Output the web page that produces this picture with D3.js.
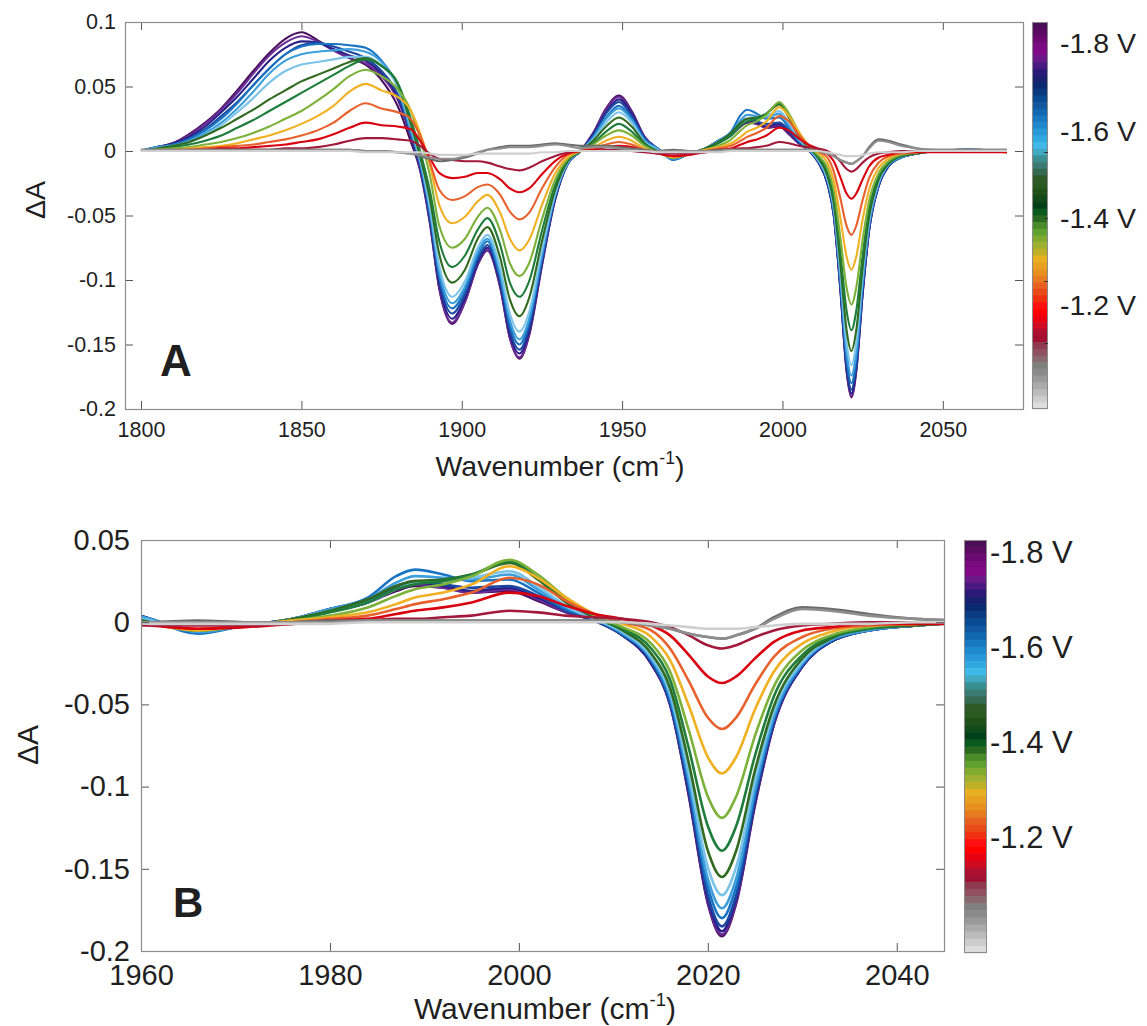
<!DOCTYPE html>
<html><head><meta charset="utf-8">
<script src="https://cdn.jsdelivr.net/npm/d3@7"></script>
<style>
body{margin:0;background:#fff}
svg{display:block}
text{font-family:"Liberation Sans",Arial,Helvetica,sans-serif;fill:#1f1f1f}
</style>
</head><body>
<svg id="c" width="1147" height="1026"></svg>
<script>
// ---------------- DATA ----------------
const wavenumber = [1800,1805,1810,1815,1820,1825,1830,1835,1840,1845,1850,1855,1860,1865,1870,1875,1880,1884,
  1887,1890,1893,1897,1901,1905,1908,1912,1915,1918,1921,1925,1929,1933,1937,
  1941,1945,1949,1953,1957,1961,1966,1971,
  1976,1980,1984,1987,1989,1992,1995,1999,2002,2005,2008,
  2011,2014,2016,2018,2020,2021.5,2023,2025,2027,2030,2033,2037,2042,
  2048,2058,2070];

const voltages = [-1.0,-1.05,-1.1,-1.15,-1.2,-1.25,-1.3,-1.35,-1.4,-1.45,-1.5,-1.55,-1.6,-1.65,-1.7,-1.75,-1.8];

const dA_180 = [0,.003,.006,.013,.022,.033,.047,.062,.076,.087,.092,.086,.078,.072,.067,.055,.035,.008,
  -.015,-.055,-.107,-.134,-.117,-.088,-.077,-.106,-.145,-.161,-.143,-.089,-.039,-.010,0,
  .014,.033,.043,.031,.011,.002,-.005,-.002,
  .002,.007,.012,.019,.022,.021,.018,.019,.013,.006,.001,
  -.008,-.025,-.050,-.106,-.171,-.191,-.171,-.111,-.062,-.027,-.012,-.005,-.002,
  0,.001,0];
const dA_175 = [0,.003,.006,.012,.021,.032,.045,.060,.074,.084,.089,.085,.078,.072,.068,.058,.040,.012,
  -.014,-.054,-.106,-.133,-.117,-.088,-.077,-.105,-.145,-.160,-.142,-.088,-.038,-.010,0,
  .014,.032,.042,.030,.011,.002,-.005,-.002,
  .002,.007,.012,.020,.023,.021,.018,.020,.014,.006,.001,
  -.008,-.025,-.050,-.105,-.170,-.190,-.170,-.110,-.062,-.027,-.012,-.005,-.002,
  0,.001,0];
const dA_170 = [0,.003,.006,.011,.019,.030,.042,.056,.070,.080,.085,.084,.079,.074,.070,.060,.042,.013,
  -.012,-.052,-.103,-.130,-.114,-.086,-.075,-.103,-.142,-.157,-.140,-.086,-.038,-.010,0,
  .013,.030,.040,.029,.010,.002,-.006,-.002,
  .002,.008,.013,.021,.024,.022,.019,.021,.015,.007,.001,
  -.008,-.025,-.049,-.104,-.168,-.188,-.168,-.109,-.061,-.027,-.012,-.005,-.002,
  0,.001,0];
const dA_165 = [0,.003,.005,.010,.017,.027,.038,.051,.064,.075,.082,.084,.081,.077,.072,.062,.044,.014,
  -.011,-.050,-.100,-.126,-.111,-.084,-.073,-.101,-.139,-.154,-.137,-.085,-.037,-.010,0,
  .012,.029,.038,.027,.010,.002,-.006,-.002,
  .002,.008,.013,.022,.025,.023,.021,.022,.016,.007,.001,
  -.008,-.024,-.049,-.102,-.166,-.185,-.166,-.107,-.060,-.026,-.012,-.005,-.002,
  0,.001,0];
const dA_160 = [0,.003,.005,.009,.016,.025,.037,.051,.064,.075,.081,.083,.083,.082,.080,.070,.050,.018,
  -.009,-.047,-.097,-.122,-.108,-.081,-.070,-.098,-.135,-.150,-.133,-.083,-.036,-.010,0,
  .011,.026,.035,.025,.009,.002,-.007,-.002,
  .002,.008,.015,.028,.032,.029,.025,.026,.018,.008,.002,
  -.007,-.023,-.047,-.099,-.161,-.180,-.161,-.104,-.059,-.026,-.011,-.005,-.002,
  0,.001,0];
const dA_155 = [0,.003,.004,.008,.014,.022,.033,.046,.060,.070,.075,.077,.078,.079,.077,.069,.050,.016,
  -.008,-.045,-.093,-.118,-.105,-.078,-.068,-.095,-.131,-.146,-.130,-.080,-.035,-.009,0,
  .010,.025,.033,.024,.008,.002,-.006,-.002,
  .002,.008,.014,.024,.028,.027,.026,.029,.020,.009,.002,
  -.007,-.022,-.045,-.096,-.156,-.174,-.156,-.101,-.057,-.025,-.011,-.005,-.002,
  0,.001,0];
const dA_150 = [0,.002,.004,.007,.012,.020,.030,.041,.053,.062,.067,.069,.071,.073,.073,.066,.050,.020,
  -.006,-.042,-.089,-.113,-.101,-.075,-.065,-.091,-.126,-.140,-.125,-.077,-.034,-.009,0,
  .009,.022,.030,.022,.007,.001,-.005,-.002,
  .002,.007,.012,.020,.024,.025,.027,.031,.022,.010,.002,
  -.006,-.021,-.043,-.092,-.149,-.166,-.149,-.096,-.054,-.024,-.010,-.004,-.002,
  0,.001,0];
const dA_145 = [0,.002,.004,.007,.012,.018,.025,.032,.040,.047,.054,.059,.064,.069,.072,.066,.052,.022,
  -.004,-.036,-.080,-.102,-.092,-.068,-.059,-.083,-.115,-.128,-.114,-.070,-.031,-.008,0,
  .008,.019,.026,.019,.006,.000,-.005,-.002,
  .002,.007,.014,.022,.025,.026,.029,.036,.026,.012,.003,
  -.005,-.019,-.040,-.086,-.139,-.155,-.139,-.090,-.051,-.022,-.010,-.004,-.002,
  0,.001,0];
const dA_140 = [0,.001,.003,.005,.008,.012,.018,.024,.031,.038,.045,.052,.059,.066,.071,.066,.053,.026,
  .000,-.030,-.070,-.090,-.081,-.061,-.052,-.073,-.102,-.113,-.101,-.062,-.027,-.007,0,
  .006,.015,.021,.015,.005,.000,-.005,-.002,
  .001,.006,.012,.020,.023,.025,.029,.037,.027,.013,.003,
  -.004,-.016,-.035,-.077,-.124,-.139,-.124,-.081,-.045,-.020,-.009,-.004,-.001,
  0,0,0];
const dA_135 = [0,.001,.002,.003,.005,.007,.010,.014,.019,.025,.031,.039,.048,.058,.063,.058,.048,.032,
  .010,-.018,-.058,-.075,-.068,-.051,-.044,-.062,-.087,-.097,-.087,-.053,-.023,-.006,0,
  .005,.012,.016,.012,.004,-.001,-.005,-.002,
  .001,.004,.009,.016,.020,.023,.028,.038,.029,.015,.004,
  -.003,-.013,-.030,-.066,-.106,-.119,-.106,-.069,-.039,-.017,-.008,-.003,-.001,
  0,0,-.001];
const dA_130 = [0,.001,.001,.002,.003,.004,.006,.009,.012,.016,.021,.027,.035,.046,.052,.047,.042,.032,
  .014,-.010,-.042,-.056,-.051,-.039,-.034,-.048,-.068,-.077,-.069,-.042,-.018,-.005,0,
  .003,.008,.011,.008,.002,-.001,-.005,-.002,
  .001,.003,.006,.011,.015,.018,.023,.034,.027,.015,.005,
  -.001,-.009,-.023,-.051,-.082,-.092,-.082,-.053,-.030,-.013,-.006,-.002,-.001,
  0,0,-.001];
const dA_125 = [0,0,.001,.001,.002,.003,.004,.005,.007,.009,.012,.016,.022,.031,.037,.033,.030,.025,
  .012,-.008,-.030,-.038,-.035,-.028,-.026,-.034,-.047,-.053,-.048,-.029,-.013,-.003,0,
  .002,.005,.007,.005,.001,-.001,-.004,-.002,
  .000,.002,.004,.008,.011,.014,.018,.027,.023,.013,.005,
  .000,-.005,-.016,-.036,-.058,-.065,-.058,-.038,-.021,-.009,-.004,-.002,-.001,
  0,0,-.001];
const dA_120 = [0,0,0,.001,.001,.002,.002,.003,.004,.005,.007,.009,.013,.018,.022,.020,.019,.017,
  .008,-.005,-.017,-.021,-.020,-.017,-.017,-.022,-.029,-.032,-.029,-.018,-.008,-.002,0,
  .001,.003,.004,.003,.000,-.002,-.004,-.003,
  -.001,.001,.002,.005,.007,.009,.012,.018,.016,.010,.005,
  .002,-.002,-.008,-.020,-.033,-.037,-.033,-.022,-.012,-.005,-.003,-.001,-.001,
  -.001,-.001,-.001];
const dA_115 = [0,0,0,0,0,.001,.001,.001,.001,.002,.002,.003,.005,.008,.010,.010,.009,.008,
  .004,-.002,-.006,-.007,-.008,-.008,-.009,-.012,-.014,-.015,-.013,-.008,-.004,-.001,0,
  .000,.001,.001,.000,-.001,-.002,-.002,-.002,
  -.001,.000,.001,.002,.002,.003,.004,.007,.006,.004,.003,
  .002,.000,-.003,-.008,-.014,-.016,-.014,-.009,-.005,-.002,-.001,0,0,
  0,0,0];
const dA_110 = [.001,.001,.001,.001,.001,.001,.001,.001,.001,.001,.001,.001,.001,.001,0,0,-.001,-.002,
  -.004,-.006,-.008,-.007,-.005,-.002,.001,.003,.004,.004,.004,.005,.006,.005,.004,
  .004,.004,.003,.002,.001,.000,.001,.000,
  .000,.001,.001,.001,.001,.001,.001,.001,.001,.001,.001,
  .000,-.002,-.004,-.007,-.009,-.010,-.008,-.004,.003,.009,.008,.005,.002,
  .001,.001,.001];
const dA_105 = [.001,.001,.001,.001,.001,.001,.001,.001,.001,.001,.001,.001,.001,.001,0,0,-.001,-.002,
  -.003,-.005,-.006,-.006,-.004,-.001,.001,.002,.003,.003,.003,.004,.005,.004,.002,
  .003,.003,.002,.001,.000,.000,.000,.000,
  .000,.000,.001,.001,.001,.001,.001,.001,.001,.001,.001,
  .000,-.002,-.004,-.007,-.009,-.010,-.008,-.004,.002,.008,.007,.004,.002,
  .001,.001,.001];
const dA_100 = [0,0,0,0,0,0,0,0,0,0,0,0,0,0,-.001,-.001,-.001,-.001,
  -.001,-.002,-.003,-.003,-.003,-.002,-.002,-.002,-.002,-.002,-.002,-.001,-.001,0,0,
  0,0,0,0,0,-.001,-.001,-.001,
  -.001,-.001,0,0,0,0,0,0,0,0,0,
  0,-.001,-.002,-.003,-.004,-.004,-.004,-.003,-.002,-.001,-.001,-.001,0,
  0,0,0];

const seriesValues = [dA_100,dA_105,dA_110,dA_115,dA_120,dA_125,dA_130,dA_135,dA_140,dA_145,dA_150,dA_155,dA_160,dA_165,dA_170,dA_175,dA_180];
const seriesColors = ['#cfcfcf','#8e8e8e','#6b6b6b','#a3193b','#d9000f','#e8602b','#f0b022','#7cb13a','#1e7d3a','#2f6a1f','#7cc3ea','#3c9fdc','#1a74c4','#1a48a0','#2b2088','#6c2c98','#4a0f5c'];

// colorbar colormap, top (most negative) to bottom
const colormap = ['#4b0f55','#5a0a60','#6a0a70','#7a0a80','#800a85','#6a1a88','#4a1a80','#2a1a78','#1a2070','#0a2a70',
  '#0a3a80','#0a4a90','#1058a0','#1068b0','#1878c0','#2088cc','#2898d8','#30a8e0','#40b8e8','#40a8c0',
  '#3a9090','#3a7a70','#356a50','#2e5a28','#2a5a20','#1e5018','#104a18','#004018','#0a5a20','#2a6a20',
  '#4a8a28','#60a030','#80aa30','#a0b030','#c0b028','#e8b020','#e8a020','#e89020','#e87a20','#e86020',
  '#e84a18','#f03010','#ff1010','#ff0000','#e80010','#d00a20','#b01030','#a01030','#903a50','#905060',
  '#8a6870','#808080','#8a8a8a','#999999','#aaaaaa','#bbbbbb','#cccccc','#dddddd'];
const cbLabels = [-1.8,-1.6,-1.4,-1.2];
const cbTicksA = [-1.55,-1.40,-1.255,-1.113];

const xTicksA = [1800,1850,1900,1950,2000,2050];
const yTicksA = [0.1,0.05,0,-0.05,-0.1,-0.15,-0.2];
const xTicksB = [1960,1980,2000,2020,2040];
const yTicksB = [0.05,0,-0.05,-0.1,-0.15,-0.2];

// ---------------- DRAW ----------------
const svg = d3.select('#c');
const series = voltages.map((v,i)=>({v, values: seriesValues[i], color: seriesColors[i]}));

function panel(cfg){
  const x = d3.scaleLinear().domain(cfg.xDomain).range([cfg.left, cfg.right]);
  const y = d3.scaleLinear().domain(cfg.yDomain).range([cfg.bottom, cfg.top]);
  const g = svg.append('g');
  const clipId = 'clip' + cfg.id;
  svg.append('clipPath').attr('id', clipId).append('rect')
    .attr('x', cfg.left).attr('y', cfg.top).attr('width', cfg.right-cfg.left).attr('height', cfg.bottom-cfg.top);

  const line = d3.line().x((d,i)=>x(wavenumber[i])).y(d=>y(d)).curve(d3.curveMonotoneX);
  const gl = g.append('g').attr('clip-path', `url(#${clipId})`);
  series.slice().reverse().forEach(s=>{
    gl.append('path').attr('d', line(s.values)).attr('fill','none')
      .attr('stroke', s.color).attr('stroke-width', cfg.lw).attr('stroke-linejoin','round');
  });

  const fmt = d=>String(d);
  const styleAxis = (sel, fs)=>{
    sel.attr('font-family', null).attr('font-size', null);
    sel.select('.domain').remove();
    sel.selectAll('line').attr('stroke', '#555').attr('stroke-width', 1);
    sel.selectAll('text').style('font-size', fs+'px').attr('fill', '#1f1f1f');
  };
  g.append('g').attr('transform',`translate(0,${cfg.bottom})`)
    .call(d3.axisBottom(x).tickValues(cfg.xTicks).tickSize(-cfg.tick).tickPadding(cfg.xPad).tickFormat(fmt))
    .call(s=>styleAxis(s, cfg.fs));
  g.append('g').attr('transform',`translate(${cfg.left},0)`)
    .call(d3.axisLeft(y).tickValues(cfg.yTicks).tickSize(-cfg.tick).tickPadding(cfg.yPad).tickFormat(fmt))
    .call(s=>styleAxis(s, cfg.fs));
  g.append('g').attr('transform',`translate(0,${cfg.top})`)
    .call(d3.axisTop(x).tickValues(cfg.xTicks).tickSize(-cfg.tick).tickFormat(''))
    .call(s=>styleAxis(s, cfg.fs));
  g.append('g').attr('transform',`translate(${cfg.right},0)`)
    .call(d3.axisRight(y).tickValues(cfg.yTicks).tickSize(-cfg.tick).tickFormat(''))
    .call(s=>styleAxis(s, cfg.fs));
  g.append('rect').attr('x', cfg.left+0.5).attr('y', cfg.top+0.5)
    .attr('width', cfg.right-cfg.left).attr('height', cfg.bottom-cfg.top)
    .attr('fill','none').attr('stroke','#8c8c8c').attr('stroke-width',1.2);

  // axis labels
  const xl = g.append('text').attr('x', cfg.xlX).attr('y', cfg.xlY).attr('text-anchor','middle')
    .style('font-size', cfg.lfs+'px');
  xl.append('tspan').text('Wavenumber (cm');
  xl.append('tspan').attr('dy', -cfg.lfs*0.42).style('font-size', (cfg.lfs*0.62)+'px').text('-1');
  xl.append('tspan').attr('dy', cfg.lfs*0.42).text(')');
  g.append('text').attr('transform',`translate(${cfg.ylX},${cfg.ylY}) rotate(-90)`)
    .attr('text-anchor','middle').attr('dy','0.35em').style('font-size', cfg.lfs+'px').text('ΔA');
  g.append('text').attr('x', cfg.tagX).attr('y', cfg.tagY).style('font-size', cfg.tagFs+'px')
    .style('font-weight','bold').attr('fill','#000').text(cfg.id);

  // colorbar
  const cb = d3.scaleBand().domain(d3.range(colormap.length)).range([cfg.cbTop, cfg.cbBottom]);
  g.append('g').selectAll('rect').data(colormap).join('rect')
    .attr('x', cfg.cbLeft).attr('y', (d,i)=>cb(i)).attr('width', cfg.cbW).attr('height', cb.bandwidth()+0.6)
    .attr('fill', d=>d);
  g.append('rect').attr('x', cfg.cbLeft+0.5).attr('y', cfg.cbTop+0.5).attr('width', cfg.cbW-1)
    .attr('height', cfg.cbBottom-cfg.cbTop-1).attr('fill','none').attr('stroke','#8c8c8c').attr('stroke-width',1);
  const cv = d3.scaleLinear().domain([-1.8,-1.2]).range([cfg.cb18, cfg.cb12]);
  if (cfg.cbTicks) {
    g.append('g').selectAll('line').data(cfg.cbTicks).join('line')
      .attr('x1', cfg.cbLeft+cfg.cbW-4).attr('x2', cfg.cbLeft+cfg.cbW)
      .attr('y1', d=>Math.round(cv(d))+0.5).attr('y2', d=>Math.round(cv(d))+0.5)
      .attr('stroke','#333').attr('stroke-width',1);
  }
  g.append('g').selectAll('text').data(cbLabels).join('text')
    .attr('x', cfg.cbLabX).attr('y', d=>cv(d)).attr('dy','0.36em')
    .style('font-size', cfg.cbFs+'px').attr('fill','#000').text(d=>d.toFixed(1)+' V');
}

panel({id:'A', xDomain:[1795,2075], yDomain:[-0.2,0.1], left:125, right:1023, top:22, bottom:409,
  xTicks:xTicksA, yTicks:yTicksA, tick:8, xPad:13, yPad:9, fs:21.5, lw:2.1,
  lfs:28.5, xlX:560, xlY:476, ylX:35, ylY:200, tagX:160, tagY:376, tagFs:44,
  cbLeft:1032, cbW:16, cbTop:22, cbBottom:409, cb18:43, cb12:305, cbLabX:1060, cbFs:28.5, cbTicks:cbTicksA});

panel({id:'B', xDomain:[1960,2045], yDomain:[-0.2,0.05], left:141, right:944, top:540, bottom:951,
  xTicks:xTicksB, yTicks:yTicksB, tick:8, xPad:13, yPad:11, fs:29, lw:2.6,
  lfs:30, xlX:545, xlY:1019, ylX:27, ylY:745, tagX:173, tagY:917, tagFs:42,
  cbLeft:964, cbW:23, cbTop:540, cbBottom:953, cb18:552, cb12:837, cbLabX:990, cbFs:31});
</script>
</body></html>
